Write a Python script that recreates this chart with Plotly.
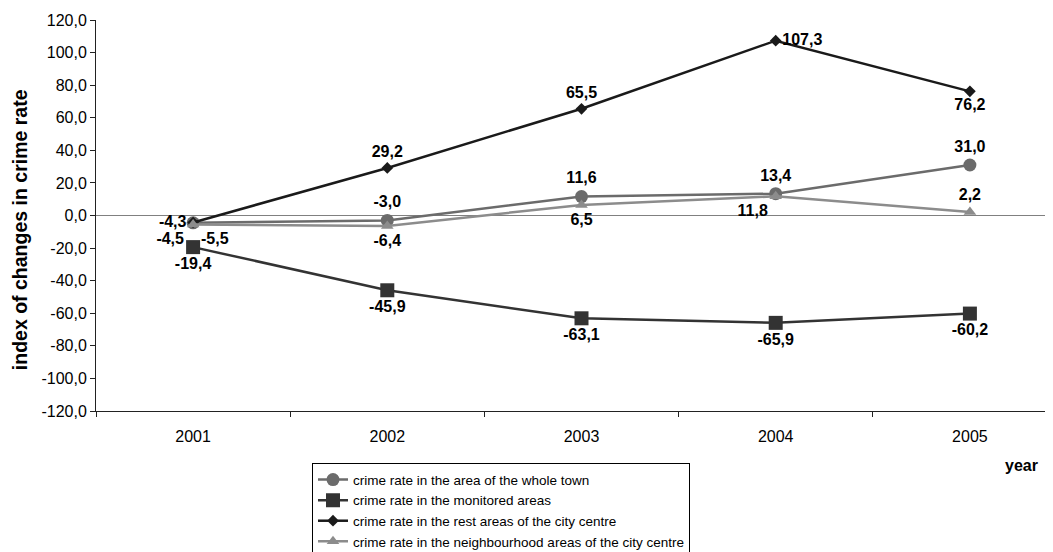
import plotly.graph_objects as go

years = ["2001", "2002", "2003", "2004", "2005"]
whole_town = [-4.5, -3.0, 11.6, 13.4, 31.0]
monitored = [-19.4, -45.9, -63.1, -65.9, -60.2]
rest_centre = [-4.3, 29.2, 65.5, 107.3, 76.2]
neighbourhood = [-5.5, -6.4, 6.5, 11.8, 2.2]

names = [
    "crime rate in the area of the whole town",
    "crime rate in the monitored areas",
    "crime rate in the rest areas of the city centre",
    "crime rate in the neighbourhood areas of the city centre",
]
y_ticks = list(range(-120, 121, 20))
y_ticktext = [f"{v},0" for v in y_ticks]

def fmt(v):
    return f"{v:.1f}".replace(".", ",")

xs = list(range(len(years)))
FONT = "Liberation Sans, Arial, sans-serif"
NARROW = "Liberation Sans Narrow, Arial Narrow, Liberation Sans, Arial, sans-serif"
label_font = dict(family=FONT, size=16, color="black", weight="bold")

fig = go.Figure()
series = [
    (whole_town, names[0], "#6b6b6b", "circle", 13,
     ["bottom left", "top center", "top center", "top center", "top center"]),
    (monitored, names[1], "#333333", "square", 14,
     ["bottom center"] * 5),
    (rest_centre, names[2], "#1a1a1a", "diamond", 9,
     ["middle left", "top center", "top center", "middle right", "bottom center"]),
    (neighbourhood, names[3], "#8c8c8c", "triangle-up", 11,
     ["bottom right", "bottom center", "bottom center", "bottom left", "top center"]),
]
for vals, name, color, sym, size, pos in series:
    fig.add_trace(go.Scatter(
        x=xs, y=vals, name=name, mode="lines+markers+text",
        line=dict(color=color, width=2.5),
        marker=dict(symbol=sym, size=size, color=color),
        text=[fmt(v) for v in vals], textposition=pos,
        textfont=label_font, cliponaxis=False,
    ))

# invisible trace on secondary x axis to carry category-boundary ticks
fig.add_trace(go.Scatter(x=[-0.5], y=[0], xaxis="x2", mode="markers",
                         marker=dict(opacity=0), showlegend=False, hoverinfo="skip"))

OFF = 8  # page body margin
W, H = 1053 - OFF, 552 - OFF
L, T = 96 - OFF, 20 - OFF
PB = 410.7 - OFF  # plot bottom in figure px
B = H - PB
PW = W - L
PH = PB - T
xr = [-0.5, -0.5 + PW / 194.2]

def px_x(x):
    return (x - OFF - L) / PW

def px_y(y):
    return (PB - (y - OFF)) / PH

fig.update_layout(
    width=W, height=H,
    margin=dict(l=L, r=0, t=T, b=B, autoexpand=False),
    plot_bgcolor="white", paper_bgcolor="white",
    font=dict(family=FONT, size=16, color="black"),
    xaxis=dict(range=xr, tickvals=xs, ticktext=years, ticks="", showgrid=False,
               zeroline=False, showline=True, linecolor="#222", linewidth=1,
               tickfont=dict(size=16), ticklabelstandoff=11, automargin=False),
    xaxis2=dict(range=xr, overlaying="x", side="bottom", tickvals=[-0.5, 0.5, 1.5, 2.5, 3.5, 4.5],
                ticks="outside", ticklen=5, tickcolor="#222", showticklabels=False,
                showgrid=False, zeroline=False, showline=False, anchor="y"),
    yaxis=dict(range=[-120, 120], tickvals=y_ticks, ticktext=y_ticktext,
               ticks="outside", ticklen=5, tickcolor="#222", showgrid=False,
               zeroline=True, zerolinecolor="#808080", zerolinewidth=1, automargin=False,
               showline=True, linecolor="#222", linewidth=1, tickfont=dict(size=16)),
    legend=dict(x=px_x(312), y=px_y(463), xanchor="left", yanchor="top",
                bordercolor="black", borderwidth=1, bgcolor="white",
                font=dict(family=NARROW, size=13.5, color="black"), tracegroupgap=0),
    showlegend=True,
    annotations=[
        dict(text="index of changes in crime rate", textangle=-90, xref="paper", yref="paper",
             x=px_x(20), y=px_y(230), xanchor="center", yanchor="middle", showarrow=False,
             font=dict(size=19.5, weight="bold", family=FONT)),
        dict(text="year", xref="paper", yref="paper", x=px_x(1021),
             y=px_y(465), xanchor="center", yanchor="middle", showarrow=False,
             font=dict(size=16, weight="bold", family=FONT)),
    ],
)
fig.write_html("out.html")
